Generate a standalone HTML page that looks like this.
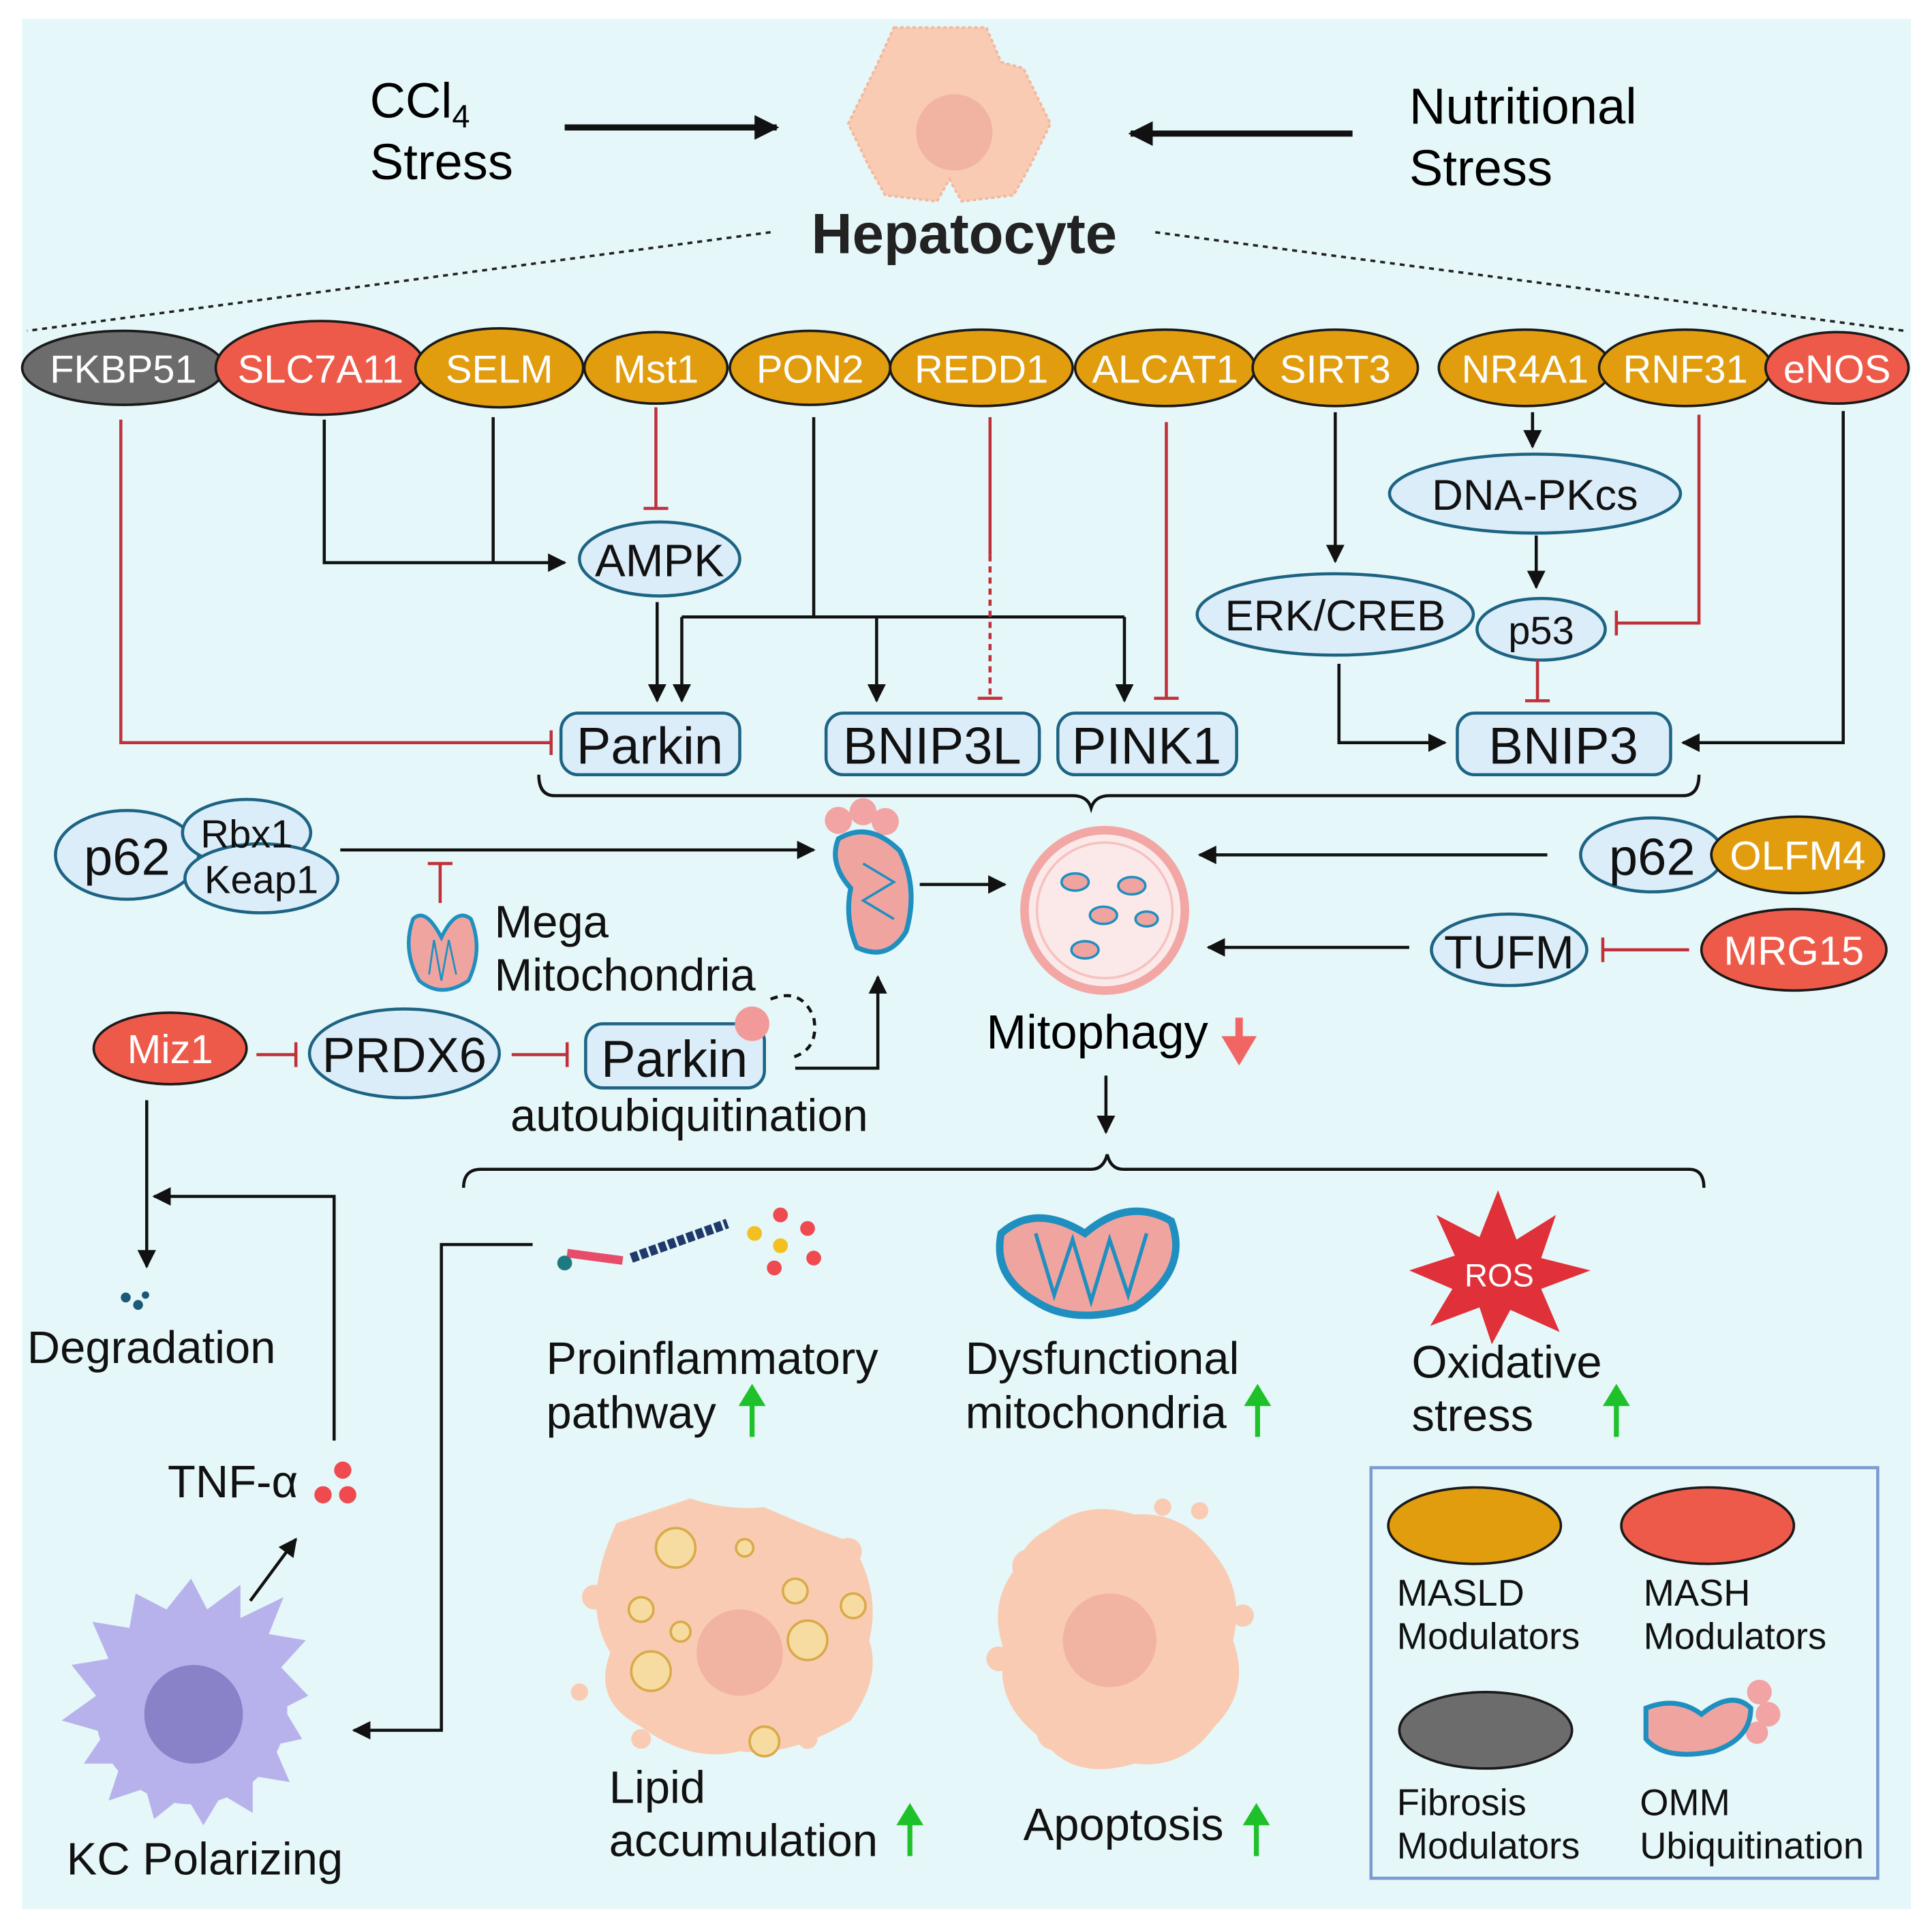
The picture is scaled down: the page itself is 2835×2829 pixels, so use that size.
<!DOCTYPE html>
<html><head><meta charset="utf-8"><style>
html,body{margin:0;padding:0;background:#fff;}
svg{display:block;}
text{font-family:"Liberation Sans",Arial,sans-serif;}
</style></head><body>
<svg width="2835" height="2829" viewBox="0 0 1567 1563" xmlns="http://www.w3.org/2000/svg">
<defs>
<marker id="a" viewBox="0 0 10 10" refX="9" refY="5" markerWidth="6" markerHeight="6" orient="auto-start-reverse"><path d="M0,0L10,5L0,10z" fill="#111"/></marker>
<marker id="ab" viewBox="0 0 10 10" refX="9" refY="5" markerWidth="4" markerHeight="4" orient="auto"><path d="M0,0L10,5L0,10z" fill="#111"/></marker>
</defs>
<rect x="0" y="0" width="1567" height="1563" fill="#fff"/>
<rect x="18" y="15" width="1532" height="1533" fill="#e5f7f8"/>

<!-- top -->
<text x="300" y="95" font-size="40">CCl<tspan font-size="26" dy="8">4</tspan></text>
<text x="300" y="145" font-size="41">Stress</text>
<line x1="458" y1="103" x2="630" y2="103" stroke="#111" stroke-width="5" marker-end="url(#ab)"/>
<path d="M725,22 L800,22 L812,50 L830,55 L852,100 L835,135 L822,158 L780,163 L770,145 L760,163 L718,158 L705,135 L688,100 L710,55 Z" fill="#f9cbb3" stroke="#f3b89e" stroke-width="2" stroke-dasharray="3,2"/>
<circle cx="774" cy="107" r="31" fill="#f2b4a2"/>
<line x1="1097" y1="108" x2="917" y2="108" stroke="#111" stroke-width="5" marker-end="url(#ab)"/>
<text x="1143" y="100" font-size="41">Nutritional</text>
<text x="1143" y="150" font-size="41">Stress</text>
<text x="782" y="205" font-size="46" font-weight="bold" text-anchor="middle" fill="#222">Hepatocyte</text>
<line x1="625" y1="188" x2="22" y2="268" stroke="#222" stroke-width="2" stroke-dasharray="4,4"/>
<line x1="937" y1="188" x2="1545" y2="268" stroke="#222" stroke-width="2" stroke-dasharray="4,4"/>

<!-- top row -->
<g stroke="#1a1a1a" stroke-width="2">
<ellipse cx="100" cy="298" rx="82" ry="30" fill="#6c6c6c"/>
<ellipse cx="260" cy="298" rx="85" ry="38" fill="#ee5a4a"/>
<ellipse cx="405" cy="298" rx="68" ry="32" fill="#e19d0e"/>
<ellipse cx="532" cy="298" rx="58" ry="29" fill="#e19d0e"/>
<ellipse cx="657" cy="298" rx="65" ry="30" fill="#e19d0e"/>
<ellipse cx="796" cy="298" rx="74" ry="31" fill="#e19d0e"/>
<ellipse cx="945" cy="298" rx="73" ry="31" fill="#e19d0e"/>
<ellipse cx="1083" cy="298" rx="67" ry="31" fill="#e19d0e"/>
<ellipse cx="1237" cy="298" rx="70" ry="31" fill="#e19d0e"/>
<ellipse cx="1367" cy="298" rx="70" ry="31" fill="#e19d0e"/>
<ellipse cx="1490" cy="298" rx="58" ry="29" fill="#ee5a4a"/>
</g>
<g font-size="32" fill="#fff" text-anchor="middle">
<text x="100" y="310">FKBP51</text><text x="260" y="310">SLC7A11</text><text x="405" y="310">SELM</text>
<text x="532" y="310">Mst1</text><text x="657" y="310">PON2</text><text x="796" y="310">REDD1</text>
<text x="945" y="310">ALCAT1</text><text x="1083" y="310">SIRT3</text><text x="1237" y="310">NR4A1</text>
<text x="1367" y="310">RNF31</text><text x="1490" y="310">eNOS</text>
</g>

<!-- blue nodes -->
<g fill="#dbedf9" stroke="#1d6383" stroke-width="2.5">
<ellipse cx="535" cy="453" rx="65" ry="30"/>
<ellipse cx="1245" cy="400" rx="118" ry="32"/>
<ellipse cx="1083" cy="498" rx="112" ry="33"/>
<ellipse cx="1250" cy="510" rx="52" ry="25"/>
<rect x="455" y="578" width="145" height="50" rx="14"/>
<rect x="670" y="578" width="173" height="50" rx="14"/>
<rect x="858" y="578" width="145" height="50" rx="14"/>
<rect x="1182" y="578" width="173" height="50" rx="14"/>
<ellipse cx="103" cy="693" rx="58" ry="36"/>
<ellipse cx="200" cy="675" rx="52" ry="27"/>
<ellipse cx="212" cy="712" rx="62" ry="28"/>
<ellipse cx="1340" cy="693" rx="58" ry="30"/>
<ellipse cx="1224" cy="770" rx="63" ry="29"/>
<ellipse cx="328" cy="854" rx="77" ry="36"/>
<rect x="475" y="830" width="145" height="52" rx="14"/>
</g>
<g font-size="36" text-anchor="middle" fill="#111">
<text x="535" y="467" font-size="37">AMPK</text>
<text x="1245" y="413" font-size="35">DNA-PKcs</text>
<text x="1083" y="511" font-size="35">ERK/CREB</text>
<text x="1250" y="522" font-size="32">p53</text>
<text x="527" y="619" font-size="42">Parkin</text>
<text x="756" y="619" font-size="42">BNIP3L</text>
<text x="930" y="619" font-size="42">PINK1</text>
<text x="1268" y="619" font-size="42">BNIP3</text>
<text x="103" y="709" font-size="42">p62</text>
<text x="200" y="687" font-size="32">Rbx1</text>
<text x="212" y="724" font-size="32">Keap1</text>
<text x="1340" y="709" font-size="42">p62</text>
<text x="1224" y="785" font-size="38">TUFM</text>
<text x="328" y="869" font-size="40">PRDX6</text>
<text x="547" y="873" font-size="42">Parkin</text>
</g>
<g stroke="#1a1a1a" stroke-width="2">
<ellipse cx="1458" cy="693" rx="70" ry="31" fill="#e19d0e"/>
<ellipse cx="1455" cy="770" rx="75" ry="33" fill="#ee5a4a"/>
<ellipse cx="138" cy="850" rx="62" ry="29" fill="#ee5a4a"/>
</g>
<g font-size="33" fill="#fff" text-anchor="middle">
<text x="1458" y="705">OLFM4</text><text x="1455" y="782">MRG15</text><text x="138" y="862">Miz1</text>
</g>

<!-- connectors -->
<g stroke="#111" stroke-width="2.5" fill="none">
<path d="M263,340 V456 H458" marker-end="url(#a)"/>
<path d="M400,338 V456"/>
<path d="M533,488 V568" marker-end="url(#a)"/>
<path d="M660,338 V500 M553,500 H912 M553,500 V568" marker-end="url(#a)"/>
<path d="M711,500 V568" marker-end="url(#a)"/>
<path d="M912,500 V568" marker-end="url(#a)"/>
<path d="M1083,334 V455" marker-end="url(#a)"/>
<path d="M1243,334 V362" marker-end="url(#a)"/>
<path d="M1246,434 V476" marker-end="url(#a)"/>
<path d="M1086,538 V602 H1172" marker-end="url(#a)"/>
<path d="M1495,333 V602 H1365" marker-end="url(#a)"/>
<path d="M276,689 H660" marker-end="url(#a)"/>
<path d="M746,717 H815" marker-end="url(#a)"/>
<path d="M1255,693 H973" marker-end="url(#a)"/>
<path d="M1143,768 H980" marker-end="url(#a)"/>
<path d="M645,866 H712 V792" marker-end="url(#a)"/>
<path d="M897,872 V918" marker-end="url(#a)"/>
<path d="M437,628 Q437,645 450,645 H870 Q882,645 885,655 Q888,645 900,645 H1365 Q1378,645 1378,628"/>
<path d="M376,963 Q376,948 390,948 H885 Q895,948 898,936 Q901,948 911,948 H1370 Q1382,948 1382,963"/>
<path d="M119,892 V1027" marker-end="url(#a)"/>
<path d="M271,1168 V970 H125" marker-end="url(#a)"/>
<path d="M432,1009 H358 V1403 H287" marker-end="url(#a)"/>
<path d="M203,1298 L240,1248" marker-end="url(#a)"/>
<path d="M625,810 Q650,800 660,825 Q665,852 640,858" stroke-dasharray="6,5"/>
</g>
<g stroke="#c0303a" stroke-width="2.5" fill="none">
<path d="M98,340 V602 H447 M447,592 V612"/>
<path d="M532,330 V412 M522,412 H542"/>
<path d="M803,338 V450"/>
<path d="M803,450 V565" stroke-dasharray="5,4"/>
<path d="M793,566 H813"/>
<path d="M946,342 V566 M936,566 H956"/>
<path d="M1378,336 V505 H1311 M1311,495 V515"/>
<path d="M1247,535 V568 M1237,568 H1257"/>
<path d="M357,732 V700 M347,700 H367"/>
<path d="M208,855 H240 M240,845 V865"/>
<path d="M415,855 H460 M460,845 V865"/>
<path d="M1370,770 H1300 M1300,760 V780"/>
</g>

<!-- mitochondria small -->
<g>
<circle cx="680" cy="665" r="11" fill="#f2a3a3"/><circle cx="700" cy="658" r="11" fill="#f2a3a3"/><circle cx="718" cy="666" r="11" fill="#f2a3a3"/>
<path d="M680,680 Q705,665 730,690 Q745,720 735,755 Q720,780 695,768 Q685,745 690,720 Q672,700 680,680Z" fill="#f0a4a0" stroke="#1f8fc0" stroke-width="4"/>
<path d="M700,700 L725,715 L700,730 L725,745" stroke="#1f8fc0" stroke-width="2" fill="none"/>
<path d="M335,745 Q345,735 358,760 Q370,735 382,745 Q392,770 380,795 Q358,810 340,795 Q326,770 335,745Z" fill="#f0a4a0" stroke="#1f8fc0" stroke-width="3"/>
<path d="M348,790 L352,762 L358,795 L364,762 L370,790" stroke="#1f8fc0" stroke-width="1.5" fill="none"/>
<circle cx="610" cy="830" r="14" fill="#f29a9a"/>
</g>
<!-- mitophagy -->
<circle cx="896" cy="738" r="65" fill="#fbe9ea" stroke="#f2a7a5" stroke-width="7"/>
<circle cx="896" cy="738" r="55" fill="none" stroke="#f6c2c0" stroke-width="2"/>
<g fill="#f0a4a0" stroke="#1f8fc0" stroke-width="2">
<ellipse cx="872" cy="715" rx="11" ry="7"/><ellipse cx="918" cy="718" rx="11" ry="7"/>
<ellipse cx="895" cy="742" rx="11" ry="7"/><ellipse cx="930" cy="745" rx="9" ry="6"/><ellipse cx="880" cy="770" rx="11" ry="7"/>
</g>
<text x="800" y="850" font-size="39">Mitophagy</text>
<path d="M1005,825 V848 M996,843 L1005,858 L1014,843Z" stroke="#f26565" stroke-width="6" fill="#f26565"/>

<g font-size="37" fill="#111">
<text x="401" y="760">Mega</text><text x="401" y="803">Mitochondria</text>
<text x="414" y="917">autoubiquitination</text>
<text x="22" y="1105">Degradation</text>
<text x="136" y="1214">TNF-α</text>
<text x="54" y="1520">KC Polarizing</text>
<text x="443" y="1114">Proinflammatory</text><text x="443" y="1158">pathway</text>
<text x="783" y="1114">Dysfunctional</text><text x="783" y="1158">mitochondria</text>
<text x="1145" y="1117">Oxidative</text><text x="1145" y="1160">stress</text>
<text x="494" y="1462">Lipid</text><text x="494" y="1505">accumulation</text>
<text x="830" y="1492">Apoptosis</text>
</g>
<g fill="#1fc12a">
<path d="M608,1165V1140h-9l11,-18l11,18h-9v25z"/>
<path d="M1018,1165V1140h-9l11,-18l11,18h-9v25z"/>
<path d="M1309,1165V1140h-9l11,-18l11,18h-9v25z"/>
<path d="M736,1505V1480h-9l11,-18l11,18h-9v25z"/>
<path d="M1017,1505V1480h-9l11,-18l11,18h-9v25z"/>
</g>
<!-- degradation / tnf dots -->
<g fill="#1a5a78"><circle cx="102" cy="1052" r="4"/><circle cx="112" cy="1058" r="4"/><circle cx="118" cy="1050" r="3"/></g>
<g fill="#ee4a50"><circle cx="278" cy="1192" r="7"/><circle cx="262" cy="1212" r="7"/><circle cx="282" cy="1212" r="7"/></g>
<!-- proinflammatory -->
<path d="M460,1016 L505,1022" stroke="#e84c6a" stroke-width="7"/>
<circle cx="458" cy="1024" r="6" fill="#1e7a80"/>
<path d="M512,1020 L590,992" stroke="#1f3a6a" stroke-width="8" stroke-dasharray="6,2"/>
<g><circle cx="612" cy="1000" r="6" fill="#f2c020"/><circle cx="633" cy="985" r="6" fill="#ee4a50"/><circle cx="655" cy="996" r="6" fill="#ee4a50"/><circle cx="633" cy="1010" r="6" fill="#f2c020"/><circle cx="628" cy="1028" r="6" fill="#ee4a50"/><circle cx="660" cy="1020" r="6" fill="#ee4a50"/></g>
<!-- dysfunctional mito -->
<path d="M812,1000 Q840,975 880,1000 Q915,970 950,990 Q965,1030 920,1060 Q870,1075 840,1055 Q805,1035 812,1000Z" fill="#f0a4a0" stroke="#1f8fc0" stroke-width="6"/>
<path d="M840,1000 L855,1050 L870,1005 L885,1055 L900,1005 L915,1050 L930,1000" stroke="#1f8fc0" stroke-width="3" fill="none"/>
<!-- ROS -->
<polygon points="1215,965 1230,1005 1262,985 1250,1020 1290,1030 1250,1045 1265,1080 1225,1062 1210,1090 1200,1060 1160,1075 1178,1045 1143,1030 1180,1018 1165,985 1200,1003" fill="#e0303a"/>
<text x="1216" y="1043" font-size="26" fill="#fff" text-anchor="middle">ROS</text>
<!-- KC cell -->
<g fill="#b8b2ec">
<polygon points="155,1280 168,1305 195,1285 195,1312 230,1295 218,1325 248,1330 228,1352 250,1375 230,1385 245,1410 222,1415 235,1445 205,1440 205,1470 180,1455 165,1480 150,1455 125,1475 118,1450 88,1460 98,1430 68,1430 85,1405 50,1395 78,1375 58,1350 88,1345 75,1315 105,1320 110,1292 135,1305"/>
</g>
<circle cx="155" cy="1385" r="78" fill="#b8b2ec"/>
<circle cx="157" cy="1390" r="40" fill="#8a82c8"/>
<!-- lipid cell -->
<path d="M500,1235 Q530,1225 560,1215 Q590,1225 620,1222 Q660,1240 690,1250 Q715,1290 705,1330 Q715,1360 690,1395 Q640,1425 600,1420 Q560,1430 520,1400 Q480,1380 495,1340 Q470,1300 500,1235Z" fill="#f9cbb3"/>
<circle cx="600" cy="1340" r="35" fill="#f2b4a2"/>
<g fill="#f6dca0" stroke="#d9aa4a" stroke-width="2">
<circle cx="548" cy="1255" r="16"/><circle cx="520" cy="1305" r="10"/><circle cx="528" cy="1355" r="16"/><circle cx="655" cy="1330" r="16"/><circle cx="645" cy="1290" r="10"/><circle cx="692" cy="1302" r="10"/><circle cx="620" cy="1412" r="12"/><circle cx="552" cy="1323" r="8"/><circle cx="604" cy="1255" r="7"/>
</g>
<g fill="#f9cbb3"><circle cx="482" cy="1295" r="10"/><circle cx="470" cy="1372" r="7"/><circle cx="520" cy="1410" r="8"/><circle cx="688" cy="1258" r="11"/><circle cx="685" cy="1375" r="9"/><circle cx="655" cy="1410" r="8"/><circle cx="656" cy="1255" r="6"/></g>
<!-- apoptosis cell -->
<path d="M850,1240 Q880,1215 920,1228 Q960,1225 985,1260 Q1010,1290 1000,1330 Q1015,1370 985,1400 Q960,1435 920,1430 Q870,1445 845,1410 Q805,1380 815,1340 Q800,1300 825,1270 Q830,1250 850,1240Z" fill="#f9cbb3"/>
<circle cx="900" cy="1330" r="38" fill="#f2b4a2"/>
<g fill="#f9cbb3"><circle cx="835" cy="1270" r="14"/><circle cx="943" cy="1222" r="7"/><circle cx="973" cy="1225" r="7"/><circle cx="1008" cy="1310" r="9"/><circle cx="855" cy="1405" r="14"/><circle cx="975" cy="1390" r="8"/><circle cx="810" cy="1345" r="10"/></g>

<!-- legend -->
<rect x="1112" y="1190" width="411" height="333" fill="none" stroke="#7a9ad0" stroke-width="2.5"/>
<ellipse cx="1196" cy="1237" rx="70" ry="31" fill="#e19d0e" stroke="#1a1a1a" stroke-width="2"/>
<ellipse cx="1385" cy="1237" rx="70" ry="31" fill="#ee5a4a" stroke="#1a1a1a" stroke-width="2"/>
<ellipse cx="1205" cy="1403" rx="70" ry="31" fill="#6c6c6c" stroke="#1a1a1a" stroke-width="2"/>
<circle cx="1427" cy="1372" r="10" fill="#f2a3a3"/><circle cx="1434" cy="1390" r="10" fill="#f2a3a3"/><circle cx="1425" cy="1405" r="9" fill="#f2a3a3"/>
<path d="M1335,1385 Q1360,1375 1380,1390 Q1405,1370 1420,1385 Q1420,1410 1390,1420 Q1350,1428 1335,1410Z" fill="#f0a4a0" stroke="#1f8fc0" stroke-width="4"/>
<g font-size="30" fill="#111">
<text x="1133" y="1302">MASLD</text><text x="1133" y="1337">Modulators</text>
<text x="1333" y="1302">MASH</text><text x="1333" y="1337">Modulators</text>
<text x="1133" y="1472">Fibrosis</text><text x="1133" y="1507">Modulators</text>
<text x="1330" y="1472">OMM</text><text x="1330" y="1507">Ubiquitination</text>
</g>
</svg>
</body></html>
